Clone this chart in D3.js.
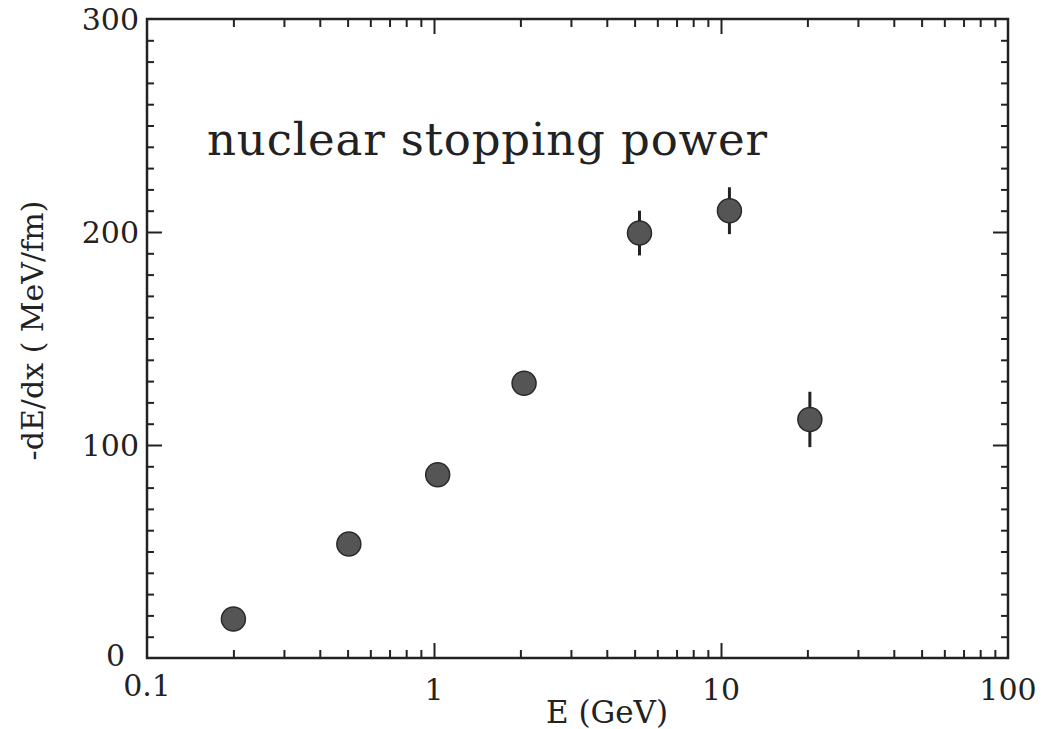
<!DOCTYPE html>
<html>
<head>
<meta charset="utf-8">
<script src="https://cdn.jsdelivr.net/npm/d3@7"></script>
<style>
  body { margin: 0; background: #fff; }
  text { font-family: "DejaVu Serif", "Liberation Serif", serif; fill: #222; }
</style>
</head>
<body>
<div id="chart"></div>
<script>
// data
var energy  = [0.2, 0.505, 1.03, 2.06, 5.2, 10.7, 20.4];   // E (GeV)
var dedx    = [18.3, 53.5, 86, 129, 199.5, 210, 112];      // -dE/dx (MeV/fm)
var errLow  = [0, 0, 0, 0, 10.5, 11, 13];
var errHigh = [0, 0, 0, 0, 10.5, 11, 13];

var xMajor = [1, 10];
var xLabels = [0.1, 1, 10, 100];
var yMajor = [100, 200];
var yLabels = [0, 100, 200, 300];

var W = 1046, H = 729;
var margin = {top: 19, right: 38, bottom: 71, left: 147},
    width = W - margin.left - margin.right,
    height = H - margin.top - margin.bottom;

var svg = d3.select("#chart").append("svg")
    .attr("width", W).attr("height", H)
  .append("g")
    .attr("transform", "translate(" + margin.left + "," + margin.top + ")");

var x = d3.scaleLog().domain([0.1, 100]).range([0, width]);
var y = d3.scaleLinear().domain([0, 300]).range([height, 0]);

// minor ticks: 2..9 in every decade, every 10 units on y
var xMinor = [];
[0.1, 1, 10].forEach(function(d) {
  for (var k = 2; k <= 9; k++) xMinor.push(d * k);
});
var yMinor = d3.range(10, 300, 10).filter(function(v) { return v % 100 !== 0; });

function tickAxis(axis, vals, size, tr) {
  var g = svg.append("g")
    .attr("transform", tr)
    .call(axis.tickValues(vals).tickSize(size).tickFormat(""));
  g.select(".domain").remove();
  g.selectAll(".tick line").attr("stroke", "#222").attr("stroke-width", 2);
  return g;
}

// ticks point inward on all four sides
tickAxis(d3.axisTop(x), xMinor, 8, "translate(0," + height + ")");
tickAxis(d3.axisTop(x), xMajor, 15, "translate(0," + height + ")");
tickAxis(d3.axisBottom(x), xMinor, 8, "translate(0,0)");
tickAxis(d3.axisBottom(x), xMajor, 15, "translate(0,0)");
tickAxis(d3.axisRight(y), yMinor, 7, "translate(0,0)");
tickAxis(d3.axisRight(y), yMajor, 15, "translate(0,0)");
tickAxis(d3.axisLeft(y), yMinor, 7, "translate(" + width + ",0)");
tickAxis(d3.axisLeft(y), yMajor, 15, "translate(" + width + ",0)");

// frame
svg.append("rect")
  .attr("x", 0).attr("y", 0)
  .attr("width", width).attr("height", height)
  .attr("fill", "none").attr("stroke", "#222").attr("stroke-width", 2.5);

// tick labels
svg.append("g").selectAll(null)
  .data(yLabels).enter()
  .append("text")
  .attr("x", function(d) { return d === 0 ? -22 : -8; })
  .attr("y", function(d) { return y(d); })
  .attr("dy", function(d) { return d === 0 ? "0.25em" : "0.35em"; })
  .attr("text-anchor", "end")
  .style("font-size", "30px")
  .text(function(d) { return d; });

svg.append("g").selectAll(null)
  .data(xLabels).enter()
  .append("text")
  .attr("x", function(d) { return x(d); })
  .attr("y", function(d) { return height + (d === 0.1 ? 38 : 42); })
  .attr("text-anchor", "middle")
  .style("font-size", "30px")
  .text(function(d) { return d; });

// axis titles
svg.append("text")
  .attr("x", 460)
  .attr("y", height + 65)
  .attr("text-anchor", "middle")
  .style("font-size", "31px")
  .text("E (GeV)");

svg.append("text")
  .attr("transform", "rotate(-90)")
  .attr("x", -(height / 2) + 8)
  .attr("y", -margin.left + 43)
  .attr("text-anchor", "middle")
  .style("font-size", "30px")
  .text("-dE/dx ( MeV/fm)");

// label inside plot
svg.append("text")
  .attr("x", 60)
  .attr("y", 136)
  .attr("textLength", 560)
  .attr("lengthAdjust", "spacing")
  .style("font-size", "45px")
  .text("nuclear stopping power");

// error bars
var pts = energy.map(function(e, i) {
  return {e: e, v: dedx[i], lo: errLow[i], hi: errHigh[i]};
});

svg.append("g").selectAll(null)
  .data(pts.filter(function(d) { return d.lo > 0 || d.hi > 0; }))
  .enter().append("line")
  .attr("x1", function(d) { return x(d.e); })
  .attr("x2", function(d) { return x(d.e); })
  .attr("y1", function(d) { return y(d.v - d.lo); })
  .attr("y2", function(d) { return y(d.v + d.hi); })
  .attr("stroke", "#222").attr("stroke-width", 3);

// dots
svg.append("g").selectAll(null)
  .data(pts).enter()
  .append("circle")
  .attr("cx", function(d) { return x(d.e); })
  .attr("cy", function(d) { return y(d.v); })
  .attr("r", 12)
  .attr("fill", "#555")
  .attr("stroke", "#2a2a2a")
  .attr("stroke-width", 1.5);
</script>
</body>
</html>
